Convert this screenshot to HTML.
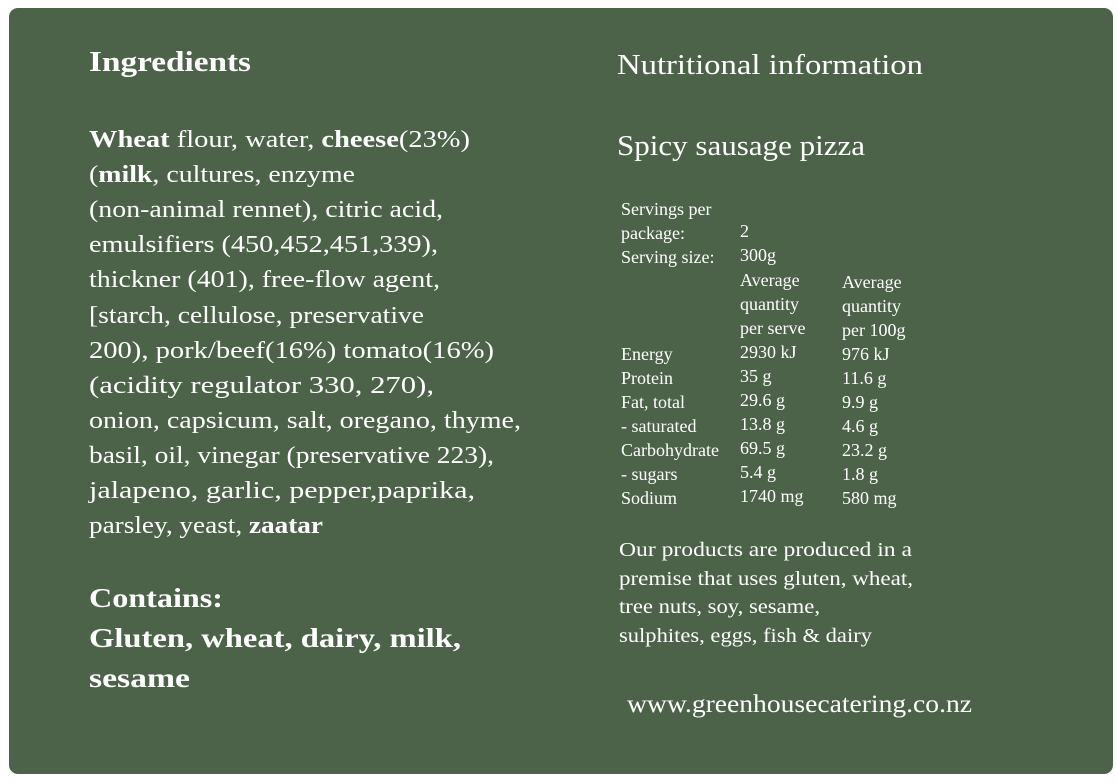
<!DOCTYPE html>
<html><head><meta charset="utf-8"><style>
html,body{margin:0;padding:0;background:#fff;width:1117px;height:784px;overflow:hidden}
svg{display:block}
text{font-family:"Liberation Serif",serif;fill:#fff}
.b{font-weight:bold}
.m{font-size:24px}
.s{font-size:18px}
</style></head><body>
<svg width="1117" height="784" viewBox="0 0 1117 784">
<rect x="9" y="8" width="1104" height="766" rx="9" fill="#4c6249"/>
<text x="89" y="71" class="b" font-size="28" textLength="162" lengthAdjust="spacingAndGlyphs">Ingredients</text>
<g class="m">
<text x="89" y="147" textLength="381" lengthAdjust="spacingAndGlyphs"><tspan class="b">Wheat</tspan> flour, water, <tspan class="b">cheese</tspan>(23%)</text>
<text x="89" y="182" textLength="266" lengthAdjust="spacingAndGlyphs">(<tspan class="b">milk</tspan>, cultures, enzyme</text>
<text x="89" y="217" textLength="354" lengthAdjust="spacingAndGlyphs">(non-animal rennet), citric acid,</text>
<text x="89" y="252" textLength="349" lengthAdjust="spacingAndGlyphs">emulsifiers (450,452,451,339),</text>
<text x="89" y="287" textLength="351" lengthAdjust="spacingAndGlyphs">thickner (401), free-flow agent,</text>
<text x="89" y="323" textLength="335" lengthAdjust="spacingAndGlyphs">[starch, cellulose, preservative</text>
<text x="89" y="358" textLength="405" lengthAdjust="spacingAndGlyphs">200), pork/beef(16%) tomato(16%)</text>
<text x="89" y="393" textLength="345" lengthAdjust="spacingAndGlyphs">(acidity regulator 330, 270),</text>
<text x="89" y="428" textLength="432" lengthAdjust="spacingAndGlyphs">onion, capsicum, salt, oregano, thyme,</text>
<text x="89" y="463" textLength="405" lengthAdjust="spacingAndGlyphs">basil, oil, vinegar (preservative 223),</text>
<text x="89" y="498" textLength="386" lengthAdjust="spacingAndGlyphs">jalapeno, garlic, pepper,paprika,</text>
<text x="89" y="533" textLength="234" lengthAdjust="spacingAndGlyphs">parsley, yeast, <tspan class="b">zaatar</tspan></text>
</g>
<text x="89" y="607" class="b" font-size="27" textLength="134" lengthAdjust="spacingAndGlyphs">Contains:</text>
<text x="89" y="647" class="b" font-size="27" textLength="372" lengthAdjust="spacingAndGlyphs">Gluten, wheat, dairy, milk,</text>
<text x="89" y="687" class="b" font-size="27" textLength="101" lengthAdjust="spacingAndGlyphs">sesame</text>

<text x="617" y="74" font-size="29" textLength="306" lengthAdjust="spacingAndGlyphs">Nutritional information</text>
<text x="617" y="155" font-size="29" textLength="248" lengthAdjust="spacingAndGlyphs">Spicy sausage pizza</text>
<g class="s">
<text x="621" y="215">Servings per</text>
<text x="621" y="239">package:</text><text x="740" y="237">2</text>
<text x="621" y="263">Serving size:</text><text x="740" y="261">300g</text>
<text x="740" y="286">Average</text><text x="842" y="288">Average</text>
<text x="740" y="310">quantity</text><text x="842" y="312">quantity</text>
<text x="740" y="334">per serve</text><text x="842" y="336">per 100g</text>
<text x="621" y="360">Energy</text><text x="740" y="358">2930 kJ</text><text x="842" y="360">976 kJ</text>
<text x="621" y="384">Protein</text><text x="740" y="382">35 g</text><text x="842" y="384">11.6 g</text>
<text x="621" y="408">Fat, total</text><text x="740" y="406">29.6 g</text><text x="842" y="408">9.9 g</text>
<text x="621" y="432">- saturated</text><text x="740" y="430">13.8 g</text><text x="842" y="432">4.6 g</text>
<text x="621" y="456">Carbohydrate</text><text x="740" y="454">69.5 g</text><text x="842" y="456">23.2 g</text>
<text x="621" y="480">- sugars</text><text x="740" y="478">5.4 g</text><text x="842" y="480">1.8 g</text>
<text x="621" y="504">Sodium</text><text x="740" y="502">1740 mg</text><text x="842" y="504">580 mg</text>
</g>
<g font-size="20">
<text x="619" y="556" textLength="293" lengthAdjust="spacingAndGlyphs">Our products are produced in a</text>
<text x="619" y="585" textLength="294" lengthAdjust="spacingAndGlyphs">premise that uses gluten, wheat,</text>
<text x="619" y="613" textLength="201" lengthAdjust="spacingAndGlyphs">tree nuts, soy, sesame,</text>
<text x="619" y="642" textLength="253" lengthAdjust="spacingAndGlyphs">sulphites, eggs, fish &amp; dairy</text>
</g>
<text x="627" y="712" font-size="25" textLength="345" lengthAdjust="spacingAndGlyphs">www.greenhousecatering.co.nz</text>
</svg>
</body></html>
